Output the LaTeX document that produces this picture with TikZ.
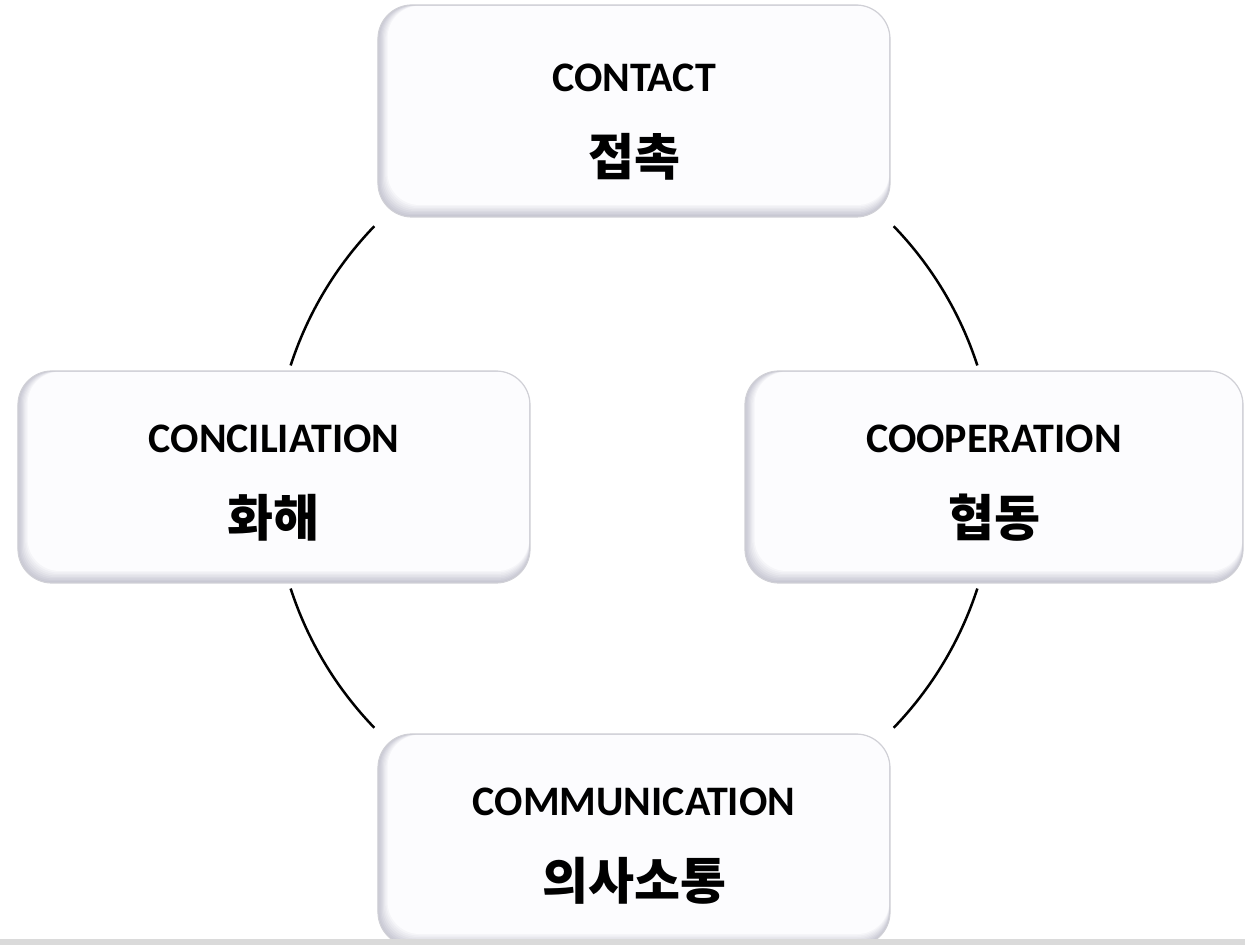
\documentclass[tikz,border=0pt]{standalone}
\usepackage{fontspec}
\setmainfont{Carlito}
\newfontfamily\kor{Noto Sans CJK KR}
\definecolor{fond}{HTML}{FCFCFE}
\definecolor{ombre}{HTML}{C6C6D2}
\definecolor{bord}{HTML}{D0D0D6}
\definecolor{bande}{HTML}{DADADA}

\begin{document}
\begin{tikzpicture}[x=0.5pt,y=0.5pt]
\tikzset{boite/.style={draw=bord, line width=0.6pt, rounded corners=17pt, fill=ombre,
  minimum width=256pt, minimum height=106pt, align=center,
  font=\bfseries\fontsize{21}{26}\selectfont,
  path picture={
    \foreach \k in {0,...,8}{
      \pgfmathtruncatemacro\pc{\k*12.5}
      \fill[fond!\pc!ombre, rounded corners=16pt]
        ([xshift=\k*0.6pt, yshift=\k*0.75pt]path picture bounding box.south west)
        rectangle ([xshift=-0.4pt, yshift=-0.4pt]path picture bounding box.north east);
    }
  }}}
\tikzset{trait/.style={line width=1.25pt}}
\newcommand\hangul[1]{{\kor\fontsize{25}{25}\selectfont #1}}
\useasboundingbox (-634,-468) rectangle (611,477);
\node[boite] (contact) at (90:366) {\rule{0pt}{25pt}CONTACT\\[16pt]\hangul{접촉}};
\node[boite, minimum width=249pt] (cooperation) at (0:360) {\rule{0pt}{20pt}COOPERATION\\[16pt]\hangul{협동}};
\node[boite] (communication) at (270:363) {\rule{0pt}{20pt}COMMUNICATION\\[16pt]\hangul{의사소통}};
\node[boite] (conciliation) at (180:360) {\rule{0pt}{20pt}CONCILIATION\\[16pt]\hangul{화해}};
\coordinate (A1) at (18:361);
\coordinate (A2) at (136:361);
\coordinate (A3) at (198:361);
\coordinate (A4) at (316:361);
\draw[trait] (A1) arc[start angle=18, end angle=44, radius=361];
\draw[trait] (A2) arc[start angle=136, end angle=162, radius=361];
\draw[trait] (A3) arc[start angle=198, end angle=224, radius=361];
\draw[trait] (A4) arc[start angle=316, end angle=342, radius=361];
\fill[bande] (-634,-468) rectangle (611,-462);
\end{tikzpicture}
\end{document}
